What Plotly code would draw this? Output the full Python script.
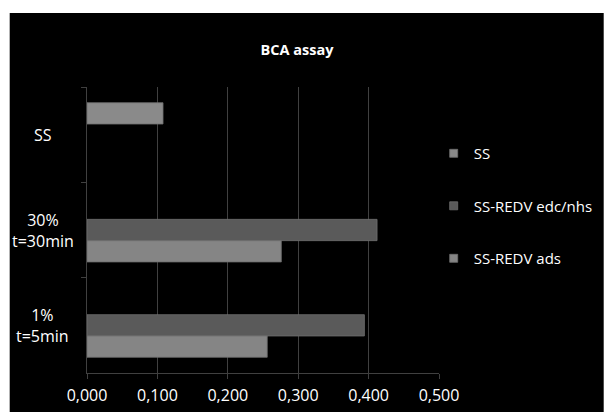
import plotly.graph_objects as go

categories = ["SS", "30%<br>t=30min", "1%<br>t=5min"]
series_names = ["SS", "SS-REDV edc/nhs", "SS-REDV ads"]
ss_values = [0.108, None, None]
edc_values = [None, 0.412, 0.394]
ads_values = [None, 0.276, 0.256]
x_ticks = [0.0, 0.1, 0.2, 0.3, 0.4, 0.5]

colors = {"SS": "#8a8a8a", "SS-REDV edc/nhs": "#5a5a5a", "SS-REDV ads": "#858585"}

W, H = 604, 412
L, R, T, B = 87.3, 604 - 439.3, 87, 412 - 372.7
pw, ph = W - L - R, H - T - B

fig = go.Figure()
# y axis is reversed, so the first trace takes the top slot of each group
for name, vals in [("SS", ss_values),
                   ("SS-REDV edc/nhs", edc_values),
                   ("SS-REDV ads", ads_values)]:
    fig.add_trace(go.Bar(
        y=categories, x=vals, name=name, orientation="h",
        marker=dict(color=colors[name], line=dict(color="#6e6e6e", width=0.8)),
        showlegend=False, legendgroup=name,
    ))
# legend entries with small square keys
for rank, name in enumerate(series_names, start=1):
    fig.add_trace(go.Scatter(
        x=[None], y=[None], mode="markers", name=name,
        marker=dict(symbol="square", size=8, color=colors[name],
                    line=dict(color="#6e6e6e", width=0.8)),
        legendrank=rank, legendgroup=name, showlegend=True,
    ))

def px_x(p):
    return (p - L) / pw

def px_y(p):
    return (H - B - p) / ph

fig.add_shape(type="rect", xref="paper", yref="paper",
              x0=px_x(10), x1=px_x(604), y0=px_y(412), y1=px_y(13),
              fillcolor="black", line=dict(width=0), layer="below")

for cat in categories:
    fig.add_annotation(text=cat, x=px_x(43), xref="paper", y=cat, yref="y",
                       xanchor="center", yanchor="middle", align="center",
                       showarrow=False, font=dict(size=16, color="white"))

font_fam = "'Open Sans', sans-serif"
fig.update_layout(
    width=W, height=H,
    margin=dict(l=L, r=R, t=T, b=B, pad=0, autoexpand=False),
    paper_bgcolor="white", plot_bgcolor="black",
    barmode="group", bargap=0.33, bargroupgap=0,
    separators=",.",
    font=dict(family=font_fam, color="white", size=14),
    title=dict(text="<b>BCA assay</b>", x=297 / W, xanchor="center",
               y=1 - 50 / H, yanchor="middle", font=dict(size=14.5, color="white")),
    legend=dict(x=px_x(434), y=px_y(137), xanchor="left", yanchor="top",
                bgcolor="rgba(0,0,0,0)", font=dict(size=15, color="white"),
                traceorder="grouped", tracegroupgap=30),
    xaxis=dict(range=[0, 0.5], tickvals=x_ticks, tickformat=".3f",
               showgrid=True, gridcolor="#404040", gridwidth=1,
               showline=True, linecolor="#404040", linewidth=1,
               ticks="outside", ticklen=5, tickcolor="#404040",
               ticklabelstandoff=3, automargin=False,
               zeroline=False, tickfont=dict(size=16, color="white")),
    yaxis=dict(autorange="reversed", showgrid=False,
               showline=True, linecolor="#404040", linewidth=1,
               ticks="outside", ticklen=5, tickcolor="#404040",
               tickson="boundaries", showticklabels=False, automargin=False),
)

fig.write_html("out.html")
